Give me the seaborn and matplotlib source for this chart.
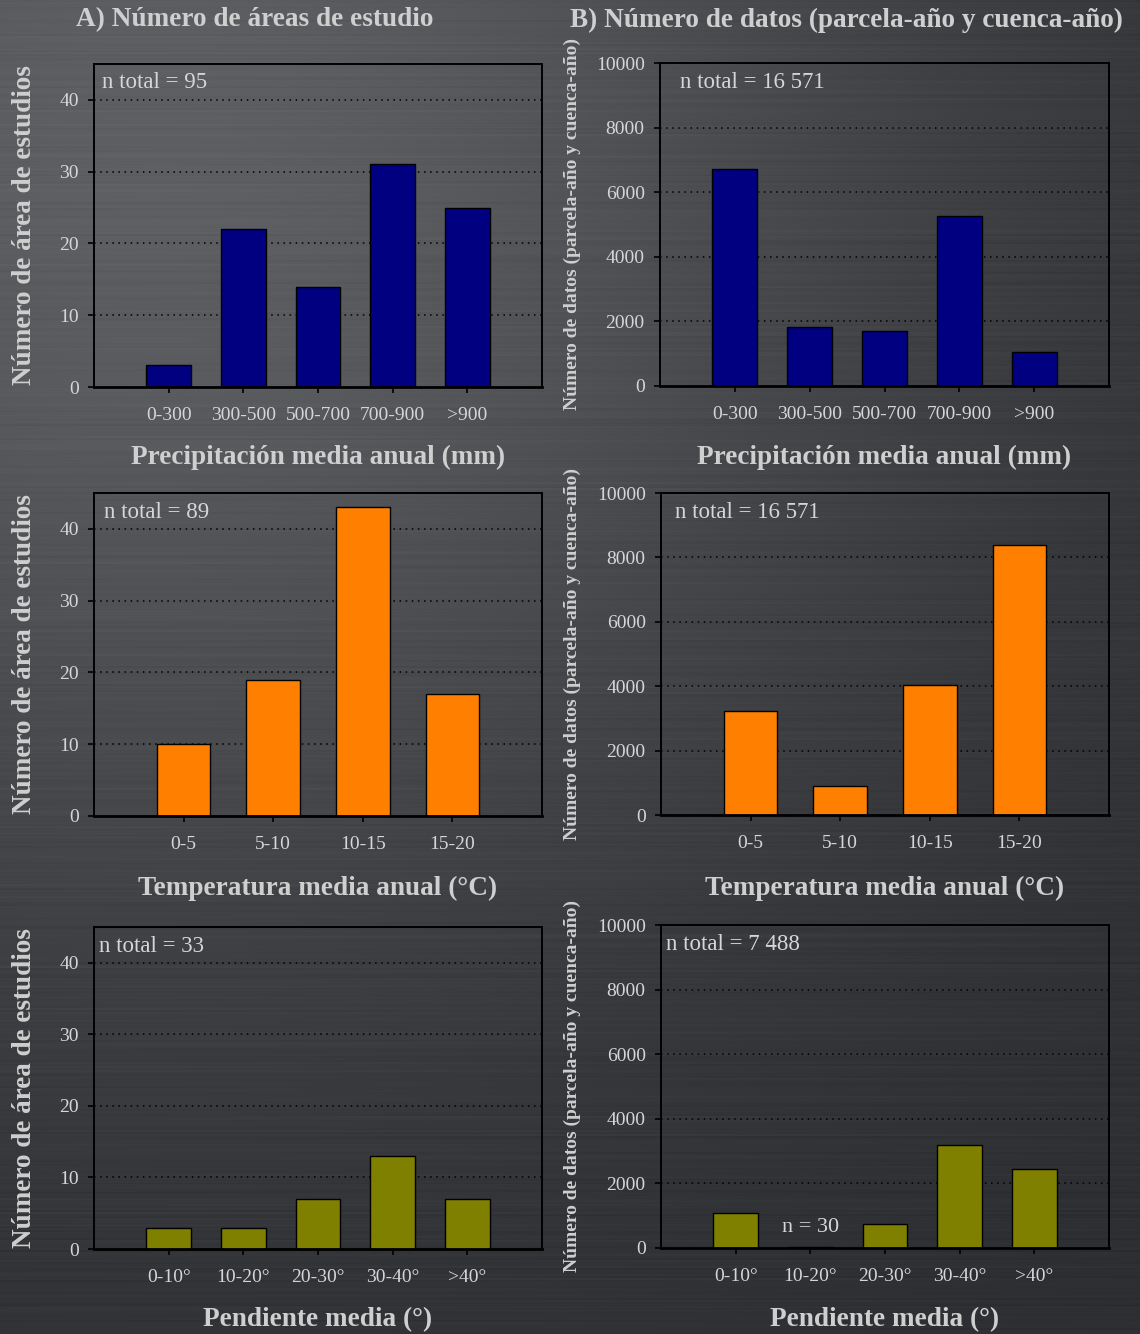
import numpy as np
import matplotlib
matplotlib.use("Agg")
import matplotlib.pyplot as plt
import seaborn as sns

sns.set_style("white")
plt.rcParams["font.family"] = ["Liberation Serif", "DejaVu Serif"]

# ---- data -------------------------------------------------------------
precip_cats = ["0-300", "300-500", "500-700", "700-900", ">900"]
precip_areas = [3, 22, 14, 31, 25]
precip_datos = [6730, 1830, 1690, 5270, 1051]

temp_cats = ["0-5", "5-10", "10-15", "15-20"]
temp_areas = [10, 19, 43, 17]
temp_datos = [3230, 910, 4036, 8395]

slope_cats = ["0-10°", "10-20°", "20-30°", "30-40°", ">40°"]
slope_areas = [3, 3, 7, 13, 7]
slope_datos = [1070, 30, 750, 3190, 2448]

n_labels_areas = ["n total = 95", "n total = 89", "n total = 33"]
n_labels_datos = ["n total = 16 571", "n total = 16 571", "n total = 7 488"]

row_xlabels = ["Precipitación media anual (mm)",
               "Temperatura media anual (°C)",
               "Pendiente media (°)"]
title_a = "A) Número de áreas de estudio"
title_b = "B) Número de datos (parcela-año y cuenca-año)"
ylabel_a = "Número de área de estudios"
ylabel_b = "Número de datos (parcela-año y cuenca-año)"

colors = ["#000080", "#FF8000", "#808000"]

# ---- figure -----------------------------------------------------------
W, H = 1140, 1334
fig = plt.figure(figsize=(W / 100, H / 100), dpi=100)


def fx(px):
    return px / W


def fy(py):
    return 1 - py / H


def hash01(a):
    # deterministic pseudo-hash in [0, 1)
    s = np.sin(a * 12.9898 + 78.233) * 43758.5453
    return s - np.floor(s)


# brushed-metal backdrop: soft light from the upper left plus horizontal streaks
yy, xx = np.mgrid[0:H, 0:W].astype(float)
d = np.hypot(xx - 150, yy - 150)
base = 44 + 50 * np.exp(-(d / 820) ** 2)

band = np.floor(yy / 2.0)
amp = hash01(band) - 0.5
period = 120 + 260 * hash01(band + 0.37)
phase = 6.283 * hash01(band + 0.71)
env = np.clip(np.sin(xx / period + phase) * 1.6, -1, 1)
fine = hash01(yy + 0.13) - 0.5
streak = 7.0 * amp * (0.5 + 0.5 * env) + 2.5 * fine
v = base + streak
bg = np.clip(np.dstack([v, v + 1, v + 5]) / 255.0, 0, 1)
bax = fig.add_axes([0, 0, 1, 1], zorder=-10)
bax.imshow(bg, aspect="auto", extent=[0, 1, 0, 1], interpolation="bilinear")
bax.axis("off")

TXT = "#cfcfcf"
TICK = "#d6d6d6"

# panel boxes in pixels: (x0, y0, x1, y1)
boxes_a = [(94, 64, 542, 387), (94, 493, 542, 816), (94, 927, 542, 1249)]
boxes_b = [(660, 63, 1109, 386), (661, 493, 1109, 815), (661, 925, 1109, 1248)]
ntext_a = [(102, 83), (104, 513), (99, 947)]
ntext_b = [(680, 83), (675, 512), (666, 945)]
xlabel_y = [457, 888, 1320]

cats_rows = [precip_cats, temp_cats, slope_cats]
areas_rows = [precip_areas, temp_areas, slope_areas]
datos_rows = [precip_datos, temp_datos, slope_datos]


def style_axis(ax, ymax, yticks, cats):
    ax.set_facecolor("none")
    ax.set_xlim(-1, len(cats))
    ax.set_ylim(0, ymax)
    ax.set_yticks(yticks)
    ax.set_xlabel("")
    ax.set_ylabel("")
    for s in ax.spines.values():
        s.set_visible(True)
        s.set_color("black")
        s.set_linewidth(1.4)
    ax.spines["bottom"].set_linewidth(2.0)
    ax.tick_params(axis="both", direction="out", length=4, width=1.2,
                   color="black", labelcolor=TICK, labelsize=14, pad=7,
                   bottom=True, left=True)
    ax.tick_params(axis="x", pad=10.5)
    ax.set_axisbelow(True)
    for t in yticks:
        if 0 < t < ymax:
            ax.axhline(t, color="black", linestyle=(0, (1, 3)), linewidth=1.1,
                       zorder=0.5)


for i in range(3):
    x0, y0, x1, y1 = boxes_a[i]
    ax = fig.add_axes([fx(x0), fy(y1), fx(x1 - x0), (y1 - y0) / H])
    sns.barplot(x=cats_rows[i], y=areas_rows[i], color=colors[i], saturation=1,
                width=0.6, edgecolor="black", linewidth=1.0, ax=ax, zorder=2)
    style_axis(ax, 45, [0, 10, 20, 30, 40], cats_rows[i])
    fig.text(fx(ntext_a[i][0]), fy(ntext_a[i][1]), n_labels_areas[i],
             color=TICK, fontsize=16.5, ha="left", va="center")
    fig.text(fx(25), fy((y0 + y1) / 2), ylabel_a, rotation=90, color=TXT,
             fontsize=19.5, fontweight="bold", ha="center", va="center")
    fig.text(fx((x0 + x1) / 2), fy(xlabel_y[i]), row_xlabels[i], color=TXT,
             fontsize=19.6, fontweight="bold", ha="center", va="center")

for i in range(3):
    x0, y0, x1, y1 = boxes_b[i]
    ax = fig.add_axes([fx(x0), fy(y1), fx(x1 - x0), (y1 - y0) / H])
    sns.barplot(x=cats_rows[i], y=datos_rows[i], color=colors[i], saturation=1,
                width=0.6, edgecolor="black", linewidth=1.0, ax=ax, zorder=2)
    style_axis(ax, 10000, [0, 2000, 4000, 6000, 8000, 10000], cats_rows[i])
    fig.text(fx(ntext_b[i][0]), fy(ntext_b[i][1]), n_labels_datos[i],
             color=TICK, fontsize=16.5, ha="left", va="center")
    fig.text(fx(572), fy((y0 + y1) / 2), ylabel_b, rotation=90, color=TXT,
             fontsize=14, fontweight="bold", ha="center", va="center")
    fig.text(fx((x0 + x1) / 2), fy(xlabel_y[i]), row_xlabels[i], color=TXT,
             fontsize=19.6, fontweight="bold", ha="center", va="center")
    if i == 2:
        small = datos_rows[i][1]
        ax.annotate(f"n = {small}", xy=(1, small), xytext=(0, 14),
                    textcoords="offset points", ha="center", va="center",
                    color=TICK, fontsize=16)

fig.text(fx(255), fy(20), title_a, color=TXT, fontsize=19.6, fontweight="bold",
         ha="center", va="center")
fig.text(fx(846), fy(20), title_b, color=TXT, fontsize=19.6, fontweight="bold",
         ha="center", va="center")

fig.savefig("out.png", dpi=100)
